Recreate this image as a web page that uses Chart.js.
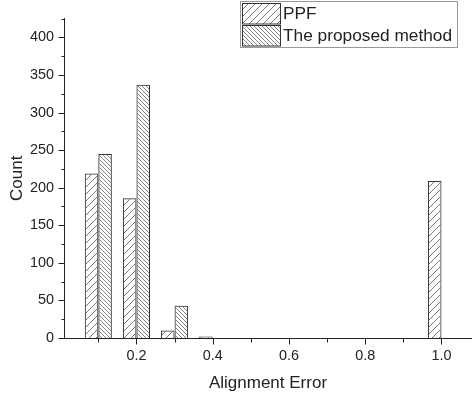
<!DOCTYPE html>
<html>
<head>
<meta charset="utf-8">
<script src="https://cdn.jsdelivr.net/npm/chart.js@4"></script>
<style>
  body { margin: 0; background: #fff; }
  #wrap { width: 472px; height: 394px; }
</style>
</head>
<body>
<div id="wrap"><canvas id="hist-chart" width="472" height="394"></canvas></div>
<script>
/* data */
let binCenters = [0.1, 0.2, 0.3, 0.4, 0.5, 0.6, 0.7, 0.8, 0.9, 1.0]
let ppfCounts = [219, 186, 10, 2, 0, 0, 0, 0, 0, 209]
let proposedCounts = [245, 337, 43, 0, 0, 0, 0, 0, 0, 0]
let seriesNames = ['PPF', 'The proposed method']

let xTickValues = [0.2, 0.4, 0.6, 0.8, 1.0]
let xMinorValues = [0.1, 0.3, 0.5, 0.7, 0.9]
let yTickValues = [0, 50, 100, 150, 200, 250, 300, 350, 400]
let yMinorValues = [25, 75, 125, 175, 225, 275, 325, 375, 425]

let fontFamily = '"Liberation Sans", Arial, sans-serif'
let inkColor = '#222'

let canvas = document.querySelector('#hist-chart')
let ctx = canvas.getContext('2d')

// hatch fill, '/' or '\'
function makeHatch(size, dir, color, lw) {
    let c = document.createElement('canvas')
    c.width = size
    c.height = size
    let g = c.getContext('2d')
    g.strokeStyle = color
    g.lineWidth = lw
    g.beginPath()
    if (dir == '/') {
        g.moveTo(-1, size + 1); g.lineTo(size + 1, -1)
        g.moveTo(-1, 1); g.lineTo(1, -1)
        g.moveTo(size - 1, size + 1); g.lineTo(size + 1, size - 1)
    } else {
        g.moveTo(-1, -1); g.lineTo(size + 1, size + 1)
        g.moveTo(size - 1, -1); g.lineTo(size + 1, 1)
        g.moveTo(-1, size - 1); g.lineTo(1, size + 1)
    }
    g.stroke()
    return ctx.createPattern(c, 'repeat')
}

let ppfHatch = makeHatch(7, '/', '#666', 0.9)
let proposedHatch = makeHatch(4, '\\', '#777', 0.9)

// small and big tick marks on both axes
let tickMarks = {
    id: 'tickMarks',
    afterDraw(chart) {
        let { x, y } = chart.scales
        let c = chart.ctx
        c.save()
        c.strokeStyle = inkColor
        c.lineWidth = 1
        c.beginPath()
        let base = Math.round(y.getPixelForValue(0)) + 0.5
        xTickValues.forEach(v => { let px = Math.round(x.getPixelForValue(v)) + 0.5; c.moveTo(px, base); c.lineTo(px, base + 6) })
        xMinorValues.forEach(v => { let px = Math.round(x.getPixelForValue(v)) + 0.5; c.moveTo(px, base); c.lineTo(px, base + 4) })
        let left = Math.round(x.left) + 0.5
        yTickValues.forEach(v => { let py = Math.round(y.getPixelForValue(v)) + 0.5; c.moveTo(left, py); c.lineTo(left - 6, py) })
        yMinorValues.forEach(v => { let py = Math.round(y.getPixelForValue(v)) + 0.5; c.moveTo(left, py); c.lineTo(left - 3, py) })
        c.stroke()
        c.restore()
    }
}

// boxed legend in the top right corner
let boxLegend = {
    id: 'boxLegend',
    afterDatasetsDraw(chart) {
        let c = chart.ctx
        let bx = 240.5, by = 1.5, bw = 217, bh = 46
        c.save()
        c.fillStyle = '#fff'
        c.fillRect(bx, by, bw, bh)
        c.strokeStyle = '#999'
        c.lineWidth = 1
        c.strokeRect(bx, by, bw, bh)
        chart.data.datasets.forEach((ds, i) => {
            let sy = 3.5 + i * 22
            c.fillStyle = ds.backgroundColor
            c.fillRect(242.5, sy, 38, 20.5)
            c.strokeStyle = '#333'
            c.strokeRect(242.5, sy, 38, 20.5)
            c.fillStyle = inkColor
            c.font = '17.3px ' + fontFamily
            c.textBaseline = 'middle'
            c.fillText(ds.label, 283, sy + 10.5)
        })
        c.restore()
    }
}

let histChart = new Chart(ctx, {
    type: 'bar',
    data: {
        datasets: [
            {
                label: seriesNames[0],
                data: binCenters.map((b, i) => ({ x: b, y: ppfCounts[i] })),
                backgroundColor: ppfHatch,
                borderColor: '#333',
                borderWidth: 1
            },
            {
                label: seriesNames[1],
                data: binCenters.map((b, i) => ({ x: b, y: proposedCounts[i] })),
                backgroundColor: proposedHatch,
                borderColor: '#333',
                borderWidth: 1
            }
        ]
    },
    options: {
        responsive: false,
        animation: false,
        events: [],
        categoryPercentage: 0.71,
        barPercentage: 1.0,
        layout: { padding: { top: 5, right: 0, bottom: 0, left: 0 } },
        plugins: { legend: { display: false }, tooltip: { enabled: false } },
        scales: {
            x: {
                type: 'linear',
                min: 0.01,
                max: 1.08,
                offset: false,
                grid: { display: false, drawTicks: false },
                border: { display: true, color: inkColor, width: 1 },
                afterBuildTicks: scale => { scale.ticks = xTickValues.map(v => ({ value: v })) },
                afterFit: scale => { scale.height = 56 },
                ticks: {
                    padding: 9,
                    color: inkColor,
                    font: { family: fontFamily, size: 14.4 },
                    maxRotation: 0,
                    callback: v => v.toFixed(1)
                },
                title: {
                    display: true,
                    text: 'Alignment Error',
                    color: inkColor,
                    font: { family: fontFamily, size: 17 },
                    padding: { top: 3, bottom: 0 }
                }
            },
            y: {
                min: 0,
                max: 425,
                grid: { display: false, drawTicks: false },
                border: { display: true, color: inkColor, width: 1 },
                afterBuildTicks: scale => { scale.ticks = yTickValues.map(v => ({ value: v })) },
                afterFit: scale => { scale.width = 64 },
                ticks: {
                    padding: 10,
                    color: inkColor,
                    font: { family: fontFamily, size: 14.4 }
                },
                title: {
                    display: true,
                    text: 'Count',
                    color: inkColor,
                    font: { family: fontFamily, size: 17 },
                    padding: { top: 7, bottom: 0 }
                }
            }
        }
    },
    plugins: [tickMarks, boxLegend]
})
</script>
</body>
</html>
